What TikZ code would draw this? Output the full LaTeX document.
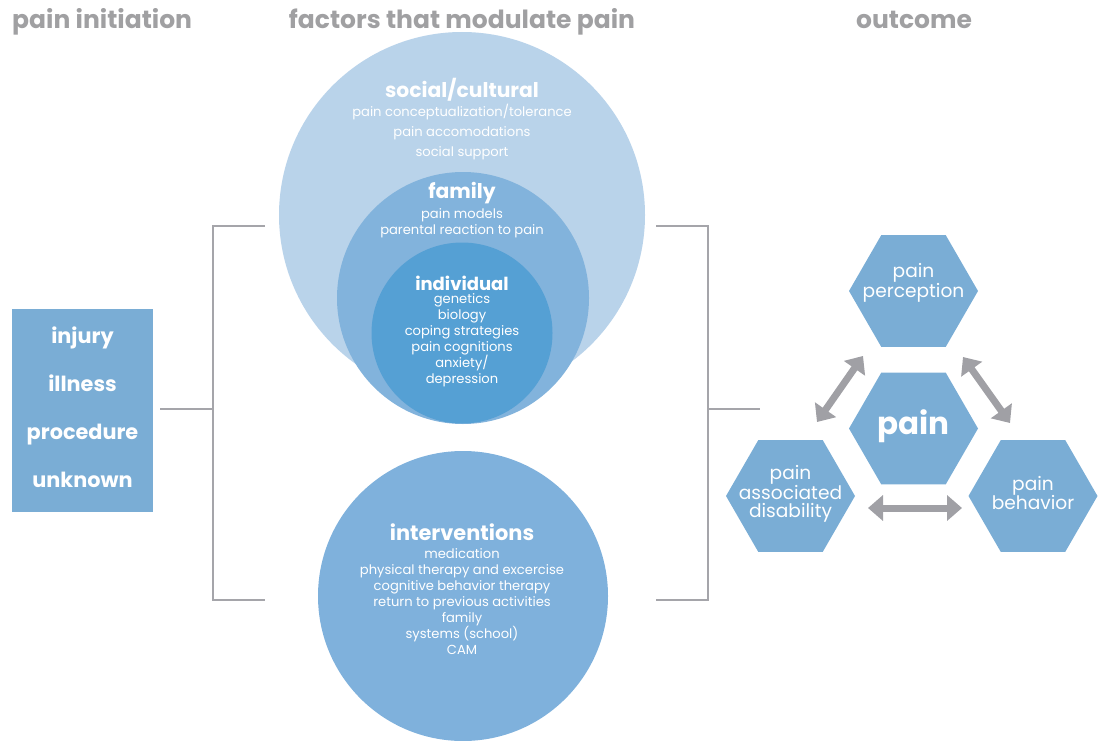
\documentclass[tikz,border=0pt]{standalone}
\usepackage{fontspec}
\setmainfont{Poppins}
\usetikzlibrary{shapes.geometric}
\usetikzlibrary{arrows.meta}

\definecolor{headgray}{RGB}{160,160,162}
\definecolor{linegray}{RGB}{165,165,170}
\definecolor{arrowgray}{RGB}{160,160,165}
\definecolor{boxblue}{RGB}{122,173,213}
\definecolor{socialblue}{RGB}{185,211,234}
\definecolor{familyblue}{RGB}{130,179,220}
\definecolor{indivblue}{RGB}{85,160,212}
\definecolor{interblue}{RGB}{127,177,220}

\begin{document}
\begin{tikzpicture}[x = 1pt, y = -1pt]
	\tikzstyle{headStyle} = [text = headgray, font = \fontsize{25}{25}\selectfont\bfseries, inner sep = 0pt]
	\tikzstyle{lineStyle} = [draw = linegray, line width = 2.4pt]
	\tikzstyle{circStyle} = [shape = circle, inner sep = 0pt, draw = none]
	\tikzstyle{titleStyle} = [text = white, inner sep = 0pt, font = \fontsize{20.3}{20}\selectfont\bfseries]
	\tikzstyle{itemStyle} = [text = white, inner sep = 0pt, align = center, font = \fontsize{13.1}{16}\selectfont]
	\tikzstyle{hexStyle} = [regular polygon, regular polygon sides = 6, minimum size = 129pt, inner sep = 0pt, fill = boxblue]
	\tikzstyle{hexText} = [text = white, inner sep = 0pt, align = center, font = \fontsize{18.6}{20}\selectfont]
	\tikzstyle{arrowStyle} = [draw = arrowgray, line width = 7pt, {Triangle[width = 25pt, length = 15pt]}-{Triangle[width = 25pt, length = 15pt]}]
	\useasboundingbox (0,0) rectangle (1105,741);
	% column headings
	\node[headStyle, anchor = base west] (h1) at (12,29) {pain initiation};
	\node[headStyle, anchor = base] (h2) at (462,29) {factors that modulate pain};
	\node[headStyle, anchor = base] (h3) at (914,29) {outcome};
	% causes
	\node[fill = boxblue, minimum width = 141pt, minimum height = 203pt, inner sep = 0pt] (cause) at (82.5,410.5) {};
	\node[text = white, align = center, inner sep = 0pt, font = \fontsize{20.8}{48}\selectfont\bfseries] (causeT) at (82.5,407.5) {injury\\illness\\procedure\\unknown};
	% nested circles
	\node[circStyle, fill = socialblue, minimum size = 366pt] (social) at (462,215) {};
	\node[circStyle, fill = familyblue, minimum size = 252pt] (family) at (463,298) {};
	\node[circStyle, fill = indivblue, minimum size = 181pt] (indiv) at (462,333) {};
	\node[circStyle, fill = interblue, minimum size = 290pt] (inter) at (463,596) {};
	\node[titleStyle] (socialT) at (462,90) {social/cultural};
	\node[itemStyle, font = \fontsize{13.1}{20}\selectfont] (socialI) at (462,132) {pain conceptualization/tolerance\\pain accomodations\\social support};
	\node[titleStyle] (familyT) at (462,193) {family};
	\node[itemStyle] (familyI) at (462,223) {pain models\\parental reaction to pain};
	\node[titleStyle, font = \fontsize{18}{18}\selectfont\bfseries] (indivT) at (462,283) {individual};
	\node[itemStyle] (indivI) at (462,340) {genetics\\biology\\coping strategies\\pain cognitions\\anxiety/\\depression};
	\node[titleStyle, font = \fontsize{20.9}{20}\selectfont\bfseries] (interT) at (462,532) {interventions};
	\node[itemStyle] (interI) at (462,601.5) {medication\\physical therapy and excercise\\cognitive behavior therapy\\return to previous activities\\family\\systems (school)\\CAM};
	% brackets
	\coordinate (lMid) at (213,409);
	\coordinate (lTop) at (213,226);
	\coordinate (lBot) at (213,600);
	\coordinate (rMid) at (708,409);
	\coordinate (rTop) at (708,226);
	\coordinate (rBot) at (708,600);
	\draw[lineStyle] ([xshift = 7pt]cause.east |- lMid) -- (lMid);
	\draw[lineStyle] (265,226) -- (lTop) -- (lBot) -- (265,600);
	\draw[lineStyle] (656,226) -- (rTop) -- (rBot) -- (656,600);
	\draw[lineStyle] (rMid) -- (760,409);
	% outcome hexagons
	\node[hexStyle] (perc) at (913.5,291) {};
	\node[hexStyle] (pain) at (913.5,428.5) {};
	\node[hexStyle] (dis) at (790.5,496) {};
	\node[hexStyle] (beh) at (1033,496) {};
	\node[hexText] (percT) at (913.5,283) {pain\\perception};
	\node[hexText, font = \fontsize{31}{31}\selectfont\bfseries] (painT) at (913.5,426) {pain};
	\node[hexText, font = \fontsize{18.6}{18}\selectfont] (disT) at (790.5,494) {pain\\associated\\disability};
	\node[hexText, font = \fontsize{18.6}{18}\selectfont] (behT) at (1033,493) {pain\\behavior};
	\coordinate (a1) at (817,422);
	\coordinate (b1) at (863,356);
	\coordinate (a2) at (963,357);
	\coordinate (b2) at (1010,423);
	\coordinate (a3) at (868,508);
	\coordinate (b3) at (962,508);
	\draw[arrowStyle] (a1) -- (b1);
	\draw[arrowStyle] (a2) -- (b2);
	\draw[arrowStyle] (a3) -- (b3);
\end{tikzpicture}
\end{document}
